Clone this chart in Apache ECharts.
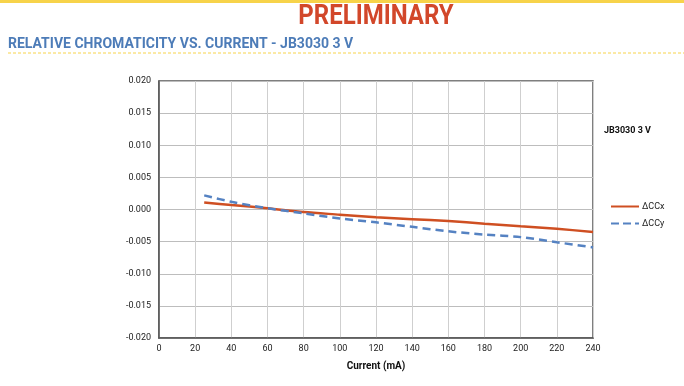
<!DOCTYPE html>
<html>
<head>
<meta charset="utf-8">
<script src="https://cdn.jsdelivr.net/npm/echarts@6/dist/echarts.min.js"></script>
<style>
html,body{margin:0;padding:0;background:#fff;}
#c{width:684px;height:386px;}
</style>
</head>
<body>
<div id="c"></div>
<script>
const currents = [25, 40, 60, 80, 100, 120, 140, 160, 180, 200, 220, 240];
const dCCx = [0.0011, 0.0007, 0.0002, -0.0004, -0.0008, -0.0012, -0.0015, -0.0018, -0.0022, -0.0026, -0.0030, -0.0035];
const dCCy = [0.0022, 0.0012, 0.0002, -0.0006, -0.0014, -0.0020, -0.0027, -0.0034, -0.0039, -0.0043, -0.0051, -0.0059];
const xTicks = [0, 20, 40, 60, 80, 100, 120, 140, 160, 180, 200, 220, 240];
const yTicks = [-0.020, -0.015, -0.010, -0.005, 0.000, 0.005, 0.010, 0.015, 0.020];

const chart = echarts.init(document.getElementById('c'), null, {renderer: 'canvas'});
const pair = a => currents.map((c, i) => [c, a[i]]);
chart.setOption({
  animation: false,
  textStyle: {fontFamily: 'Roboto'},
  graphic: [
    {type: 'rect', shape: {x: 0, y: 0, width: 684, height: 3}, style: {fill: '#f7d34a'}},
    {type: 'text', x: 376, y: 3, scaleY: 1.15, style: {text: 'PRELIMINARY', fill: '#d2472a', font: 'bold 24px Roboto', textAlign: 'center', textVerticalAlign: 'top'}},
    {type: 'text', x: 8, y: 37, style: {text: 'RELATIVE CHROMATICITY VS. CURRENT - JB3030 3 V', fill: '#4d7cb8', font: 'bold 14px Roboto', textVerticalAlign: 'top'}},
    {type: 'line', shape: {x1: 8, y1: 53, x2: 684, y2: 53}, style: {stroke: '#f7d34a', lineWidth: 1, lineDash: [3, 2]}},
    {type: 'text', x: 604, y: 126, style: {text: 'JB3030 3 V', fill: '#111', font: 'bold 9px Roboto', textVerticalAlign: 'top'}}
  ],
  grid: {left: 159, top: 81, width: 434, height: 257, show: true, borderColor: '#555', borderWidth: 1.5},
  legend: {
    orient: 'vertical', left: 606, top: 197, itemWidth: 28, itemHeight: 10, itemGap: 8,
    textStyle: {fontSize: 9, color: '#222', padding: [0, 0, 0, -2]},
    data: [
      {name: 'ΔCCx', icon: 'path://M0,4 L28,4 L28,6 L0,6 Z'},
      {name: 'ΔCCy', icon: 'path://M0,4 L8,4 L8,6 L0,6 Z M12,4 L20,4 L20,6 L12,6 Z M24,4 L28,4 L28,6 L24,6 Z'}
    ]
  },
  xAxis: {
    type: 'value', min: 0, max: 240, interval: 20,
    name: 'Current (mA)', nameLocation: 'middle', nameGap: 23,
    nameTextStyle: {fontWeight: 'bold', fontSize: 10, color: '#111'},
    axisLine: {show: true, onZero: false, lineStyle: {color: '#555', width: 1.5}},
    axisTick: {show: false},
    axisLabel: {fontSize: 9, color: '#222', margin: 6, formatter: v => xTicks.includes(v) ? String(v) : ''},
    splitLine: {show: true, lineStyle: {color: '#cfcfcf', width: 1}}
  },
  yAxis: {
    type: 'value', min: -0.02, max: 0.02, interval: 0.005,
    axisLine: {show: true, onZero: false, lineStyle: {color: '#555', width: 1.5}},
    axisTick: {show: false},
    axisLabel: {fontSize: 9, color: '#222', margin: 8, formatter: v => {
      const t = yTicks.find(y => Math.abs(y - v) < 1e-9);
      return t === undefined ? '' : (Math.abs(t) < 1e-9 ? '0.000' : t.toFixed(3));
    }},
    splitLine: {show: true, lineStyle: {color: '#bdbdbd', width: 1}}
  },
  series: [
    {name: 'ΔCCx', type: 'line', data: pair(dCCx), smooth: 0.3, showSymbol: false,
     lineStyle: {color: '#cf4f22', width: 2.5}, itemStyle: {color: '#cf4f22'}},
    {name: 'ΔCCy', type: 'line', data: pair(dCCy), smooth: 0.3, showSymbol: false,
     lineStyle: {color: '#5582c2', width: 2.5, type: [8, 5]}, itemStyle: {color: '#5582c2'}}
  ]
});
</script>
</body>
</html>
